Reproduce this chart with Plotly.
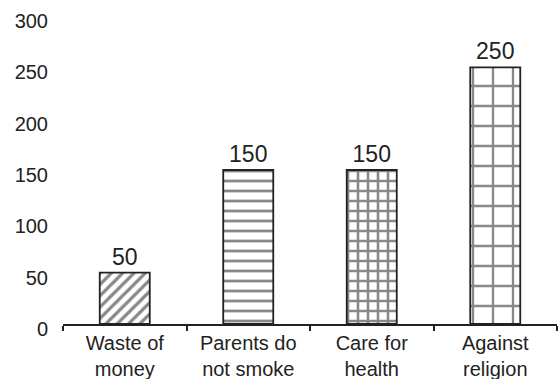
import plotly.graph_objects as go

categories = ["Waste of<br>money", "Parents do<br>not smoke", "Care for<br>health", "Against<br>religion"]
values = [50, 150, 150, 250]
y_ticks = [0, 50, 100, 150, 200, 250, 300]

ink = "#222222"
font_family = "Liberation Sans, Arial, sans-serif"

shapes = ["/", "-", "+", "+"]
sizes = [8, 10, 10, 20]
solidities = [0.4, 0.28, 0.45, 0.22]

fig = go.Figure()
fig.add_trace(go.Bar(
    x=categories,
    y=values,
    text=[str(v) for v in values],
    textposition="outside",
    textfont=dict(size=23, color=ink, family=font_family),
    cliponaxis=False,
    marker=dict(
        color="white",
        line=dict(color=ink, width=1.8),
        pattern=dict(shape=shapes, size=sizes, solidity=solidities,
                     fgcolor="#111111", bgcolor="white", fillmode="overlay"),
    ),
    showlegend=False,
))

fig.update_layout(
    width=559, height=379,
    margin=dict(l=63, r=2, t=16, b=55),
    paper_bgcolor="white",
    plot_bgcolor="white",
    bargap=0.595,
    font=dict(family=font_family, color=ink, size=20),
    xaxis=dict(
        showline=True, linecolor=ink, linewidth=1.5,
        ticks="outside", tickson="boundaries", ticklen=5, tickcolor=ink, tickwidth=1.5,
        showgrid=False, tickfont=dict(size=20, color=ink),
        ticklabelstandoff=0, automargin=False,
    ),
    yaxis=dict(
        range=[0, 300], tickvals=y_ticks, ticktext=[str(t) for t in y_ticks],
        showline=False, showgrid=False, zeroline=False, ticks="",
        tickfont=dict(size=20, color=ink),
        ticklabelstandoff=14, ticklabelshift=5, automargin=False,
    ),
)

fig.write_html("out.html")
